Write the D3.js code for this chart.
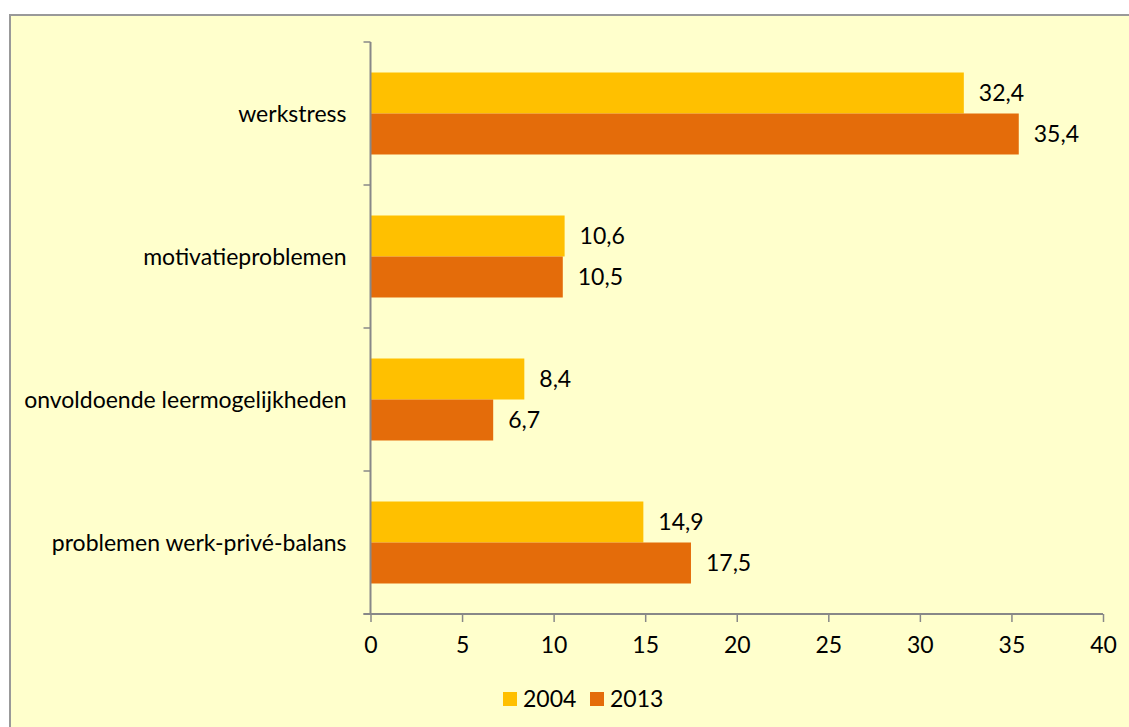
<!DOCTYPE html>
<html>
<head>
<meta charset="utf-8">
<script src="https://cdn.jsdelivr.net/npm/d3@7"></script>
<style>
  body { margin: 0; background: #fff; }
  text { font-family: Lato, "Open Sans", sans-serif; fill: #000; }
</style>
</head>
<body>
<script>
let width = 1129;
let height = 727;

// data
let categories = ["werkstress", "motivatieproblemen", "onvoldoende leermogelijkheden", "problemen werk-privé-balans"];
let years = ["2004", "2013"];
let values2004 = [32.4, 10.6, 8.4, 14.9];
let values2013 = [35.4, 10.5, 6.7, 17.5];
let xTicks = [0, 5, 10, 15, 20, 25, 30, 35, 40];
let colors = ["#FFC000", "#E46C0A"];

let marges = { top: 42, right: 26, bottom: 113, left: 370.5 };
let fontSize = 23;

let svg = d3.select("body").append("svg")
    .attr("width", width)
    .attr("height", height);

// cadre
svg.append("rect")
    .attr("x", 10)
    .attr("y", 15)
    .attr("width", width + 20)
    .attr("height", height + 20)
    .attr("fill", "#FFFFCC")
    .attr("stroke", "#999")
    .attr("stroke-width", 2);

let x = d3.scaleLinear()
    .domain([0, 40])
    .range([marges.left, width - marges.right]);

let y = d3.scaleBand()
    .domain(categories)
    .range([marges.top, height - marges.bottom])
    .padding(0);

let ySub = d3.scaleBand()
    .domain(years)
    .range([0, y.bandwidth()])
    .paddingInner(0)
    .paddingOuter(0.744);

let rows = categories.map((c, i) => ({ cat: c, v: [values2004[i], values2013[i]] }));

// barres
let groups = svg.append("g")
    .selectAll("g")
    .data(rows)
    .enter()
    .append("g")
    .attr("transform", d => "translate(0," + y(d.cat) + ")");

groups.selectAll("rect")
    .data(d => d.v.map((v, j) => ({ year: years[j], v: v, j: j })))
    .enter()
    .append("rect")
    .attr("x", x(0))
    .attr("y", d => ySub(d.year))
    .attr("width", d => x(d.v) - x(0))
    .attr("height", ySub.bandwidth())
    .attr("fill", d => colors[d.j]);

groups.selectAll("text.val")
    .data(d => d.v.map((v, j) => ({ year: years[j], v: v })))
    .enter()
    .append("text")
    .attr("class", "val")
    .attr("x", d => x(d.v) + 15)
    .attr("y", d => ySub(d.year) + ySub.bandwidth() / 2)
    .attr("dy", "0.35em")
    .style("font-size", fontSize + "px")
    .text(d => d3.format(".1f")(d.v).replace(".", ","));

// axe y
let yAxis = svg.append("g")
    .attr("transform", "translate(" + x(0) + ",0)");
yAxis.append("line")
    .attr("y1", marges.top)
    .attr("y2", height - marges.bottom)
    .attr("stroke", "#888")
    .attr("stroke-width", 2);
let yEdges = categories.map(c => y(c)).concat([height - marges.bottom]);
yAxis.selectAll("line.tick")
    .data(yEdges)
    .enter()
    .append("line")
    .attr("class", "tick")
    .attr("x1", -7)
    .attr("x2", 0)
    .attr("y1", d => d)
    .attr("y2", d => d)
    .attr("stroke", "#888")
    .attr("stroke-width", 1.5);
yAxis.selectAll("text")
    .data(categories)
    .enter()
    .append("text")
    .attr("x", -24)
    .attr("y", d => y(d) + y.bandwidth() / 2)
    .attr("dy", "0.35em")
    .attr("text-anchor", "end")
    .style("font-size", fontSize + "px")
    .text(d => d);

// axe x
let xAxis = svg.append("g")
    .attr("transform", "translate(0," + (height - marges.bottom) + ")")
    .call(d3.axisBottom(x).tickValues(xTicks).tickSize(8).tickSizeOuter(0).tickPadding(15));
xAxis.select(".domain")
    .attr("stroke", "#888")
    .attr("stroke-width", 2)
    .attr("d", "M" + (x(0) - 7) + ",0H" + x(40));
xAxis.selectAll(".tick line").attr("stroke", "#888").attr("stroke-width", 1.5);
xAxis.selectAll(".tick text")
    .style("font-size", fontSize + "px")
    .style("font-family", "Lato, 'Open Sans', sans-serif")
    .attr("fill", "#000");

// légende
let legende = svg.append("g")
    .attr("transform", "translate(503,692)");
let legX = [0, 87];
years.forEach((yr, i) => {
    legende.append("rect")
        .attr("x", legX[i])
        .attr("y", 0)
        .attr("width", 14)
        .attr("height", 14)
        .attr("fill", colors[i]);
    legende.append("text")
        .attr("x", legX[i] + 20)
        .attr("y", 7)
        .attr("dy", "0.35em")
        .style("font-size", fontSize + "px")
        .text(yr);
});
</script>
</body>
</html>
